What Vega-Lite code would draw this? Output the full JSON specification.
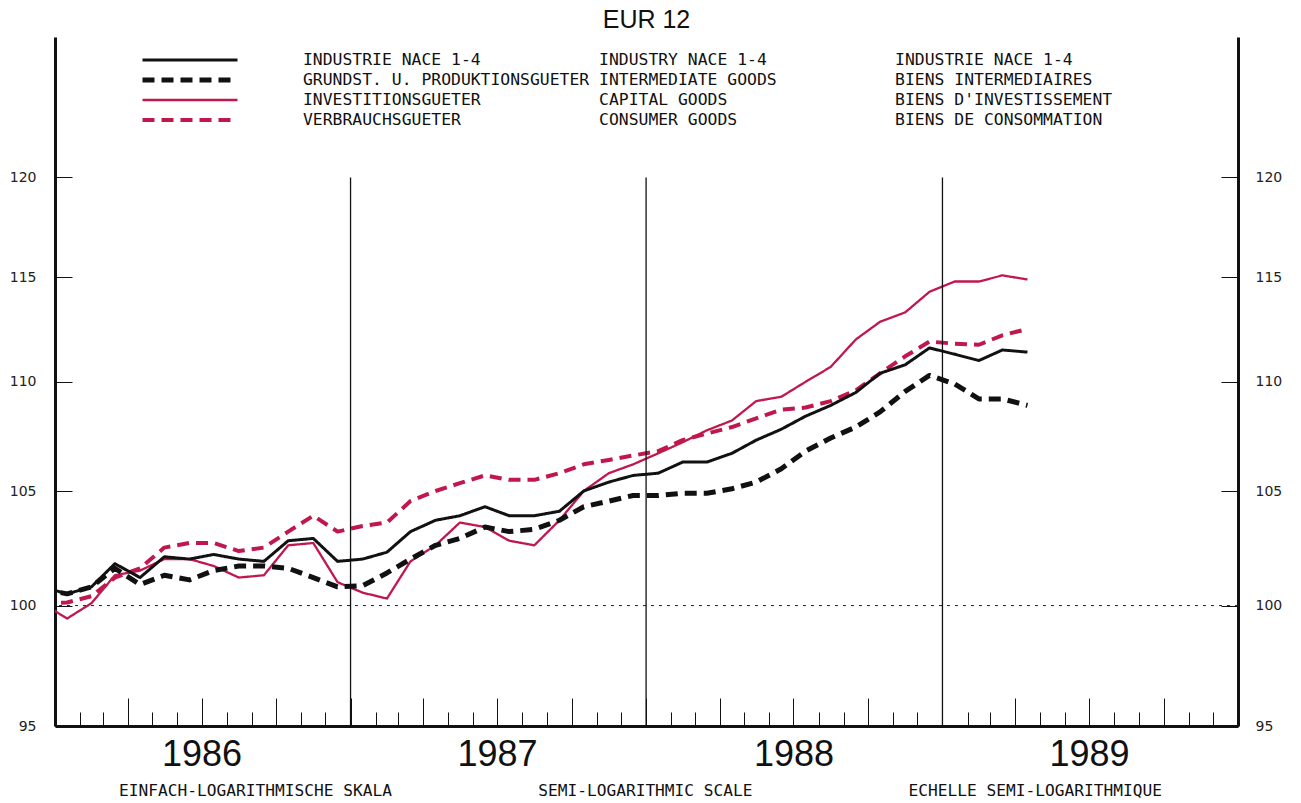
{
  "$schema": "https://vega.github.io/schema/vega-lite/v6.json",
  "width": 1183,
  "height": 689,
  "autosize": {"type": "none"},
  "padding": {"left": 55, "top": 37, "right": 63, "bottom": 77},
  "background": "white",
  "title": {"text": "EUR 12", "font": "Liberation Sans", "fontSize": 25, "fontWeight": "normal", "color": "#111111", "anchor": "middle", "baseline": "alphabetic", "offset": -16},
  "config": {"view": {"stroke": null}, "axis": {"grid": false}},
  "layer": [
    {
      "data": {"values": [
        {"d": "1985-12-16", "industrie": 100.8, "grundstoff": 100.7, "investition": 100.1, "verbrauch": 100.1},
        {"d": "1986-01-16", "industrie": 100.5, "grundstoff": 100.5, "investition": 99.45, "verbrauch": 100.13},
        {"d": "1986-02-15", "industrie": 100.8, "grundstoff": 100.8, "investition": 100.1, "verbrauch": 100.4},
        {"d": "1986-03-16", "industrie": 101.8, "grundstoff": 101.6, "investition": 101.3, "verbrauch": 101.2},
        {"d": "1986-04-16", "industrie": 101.2, "grundstoff": 100.9, "investition": 101.5, "verbrauch": 101.6},
        {"d": "1986-05-16", "industrie": 102.1, "grundstoff": 101.3, "investition": 102.0, "verbrauch": 102.5},
        {"d": "1986-06-16", "industrie": 102.0, "grundstoff": 101.1, "investition": 102.0, "verbrauch": 102.7},
        {"d": "1986-07-16", "industrie": 102.2, "grundstoff": 101.5, "investition": 101.7, "verbrauch": 102.7},
        {"d": "1986-08-16", "industrie": 102.0, "grundstoff": 101.7, "investition": 101.2, "verbrauch": 102.35},
        {"d": "1986-09-16", "industrie": 101.9, "grundstoff": 101.7, "investition": 101.3, "verbrauch": 102.5},
        {"d": "1986-10-16", "industrie": 102.8, "grundstoff": 101.6, "investition": 102.6, "verbrauch": 103.2},
        {"d": "1986-11-16", "industrie": 102.9, "grundstoff": 101.2, "investition": 102.7, "verbrauch": 103.9},
        {"d": "1986-12-16", "industrie": 101.9, "grundstoff": 100.8, "investition": 101.0, "verbrauch": 103.2},
        {"d": "1987-01-16", "industrie": 102.0, "grundstoff": 100.85, "investition": 100.55, "verbrauch": 103.45},
        {"d": "1987-02-15", "industrie": 102.3, "grundstoff": 101.4, "investition": 100.3, "verbrauch": 103.6},
        {"d": "1987-03-16", "industrie": 103.2, "grundstoff": 102.0, "investition": 101.9, "verbrauch": 104.55},
        {"d": "1987-04-16", "industrie": 103.7, "grundstoff": 102.6, "investition": 102.6, "verbrauch": 105.0},
        {"d": "1987-05-16", "industrie": 103.9, "grundstoff": 102.9, "investition": 103.6, "verbrauch": 105.35},
        {"d": "1987-06-16", "industrie": 104.3, "grundstoff": 103.4, "investition": 103.4, "verbrauch": 105.7},
        {"d": "1987-07-16", "industrie": 103.9, "grundstoff": 103.2, "investition": 102.8, "verbrauch": 105.5},
        {"d": "1987-08-16", "industrie": 103.9, "grundstoff": 103.3, "investition": 102.6, "verbrauch": 105.5},
        {"d": "1987-09-16", "industrie": 104.1, "grundstoff": 103.7, "investition": 103.7, "verbrauch": 105.8},
        {"d": "1987-10-16", "industrie": 105.0, "grundstoff": 104.3, "investition": 105.0, "verbrauch": 106.2},
        {"d": "1987-11-16", "industrie": 105.4, "grundstoff": 104.55, "investition": 105.8, "verbrauch": 106.4},
        {"d": "1987-12-16", "industrie": 105.7, "grundstoff": 104.8, "investition": 106.2, "verbrauch": 106.6},
        {"d": "1988-01-16", "industrie": 105.8, "grundstoff": 104.8, "investition": 106.7, "verbrauch": 106.8},
        {"d": "1988-02-15", "industrie": 106.3, "grundstoff": 104.9, "investition": 107.2, "verbrauch": 107.3},
        {"d": "1988-03-16", "industrie": 106.3, "grundstoff": 104.9, "investition": 107.75, "verbrauch": 107.6},
        {"d": "1988-04-16", "industrie": 106.7, "grundstoff": 105.1, "investition": 108.2, "verbrauch": 107.9},
        {"d": "1988-05-16", "industrie": 107.3, "grundstoff": 105.4, "investition": 109.1, "verbrauch": 108.3},
        {"d": "1988-06-16", "industrie": 107.8, "grundstoff": 106.0, "investition": 109.3, "verbrauch": 108.7},
        {"d": "1988-07-16", "industrie": 108.4, "grundstoff": 106.8, "investition": 110.0, "verbrauch": 108.8},
        {"d": "1988-08-16", "industrie": 108.9, "grundstoff": 107.4, "investition": 110.7, "verbrauch": 109.1},
        {"d": "1988-09-16", "industrie": 109.5, "grundstoff": 107.9, "investition": 112.0, "verbrauch": 109.6},
        {"d": "1988-10-16", "industrie": 110.4, "grundstoff": 108.6, "investition": 112.85, "verbrauch": 110.4},
        {"d": "1988-11-16", "industrie": 110.8, "grundstoff": 109.55, "investition": 113.3, "verbrauch": 111.2},
        {"d": "1988-12-16", "industrie": 111.6, "grundstoff": 110.3, "investition": 114.3, "verbrauch": 111.9},
        {"d": "1989-01-16", "industrie": 111.3, "grundstoff": 109.9, "investition": 114.8, "verbrauch": 111.8},
        {"d": "1989-02-15", "industrie": 111.0, "grundstoff": 109.2, "investition": 114.8, "verbrauch": 111.75},
        {"d": "1989-03-16", "industrie": 111.5, "grundstoff": 109.2, "investition": 115.1, "verbrauch": 112.2},
        {"d": "1989-04-16", "industrie": 111.4, "grundstoff": 108.9, "investition": 114.9, "verbrauch": 112.5}
      ]},
      "transform": [{"fold": ["verbrauch", "investition", "grundstoff", "industrie"], "as": ["series", "idx"]}],
      "mark": {"type": "line", "clip": true, "strokeJoin": "round"},
      "encoding": {
        "x": {
          "field": "d", "type": "temporal",
          "scale": {"type": "utc", "nice": false, "domain": [{"year": 1986, "month": 1, "date": 1, "utc": true}, {"year": 1990, "month": 1, "date": 1, "utc": true}]},
          "axis": {
            "tickCount": {"interval": "month", "step": 1},
            "tickSize": {"condition": {"test": "utcmonth(datum.value) % 3 == 0", "value": -28}, "value": -14},
            "tickColor": "#111111", "tickWidth": 1,
            "domainColor": "#111111", "domainWidth": 3,
            "labelExpr": "utcmonth(datum.value) == 6 ? utcFormat(datum.value, '%Y') : ''",
            "labelOverlap": false, "labelFlush": false, "labelBound": false,
            "labelFont": "Liberation Sans", "labelFontSize": 36, "labelColor": "#111111",
            "labelBaseline": "alphabetic", "labelPadding": 67,
            "title": "EINFACH-LOGARITHMISCHE SKALA\u00a0\u00a0\u00a0\u00a0\u00a0\u00a0\u00a0\u00a0\u00a0\u00a0\u00a0\u00a0\u00a0\u00a0\u00a0SEMI-LOGARITHMIC SCALE\u00a0\u00a0\u00a0\u00a0\u00a0\u00a0\u00a0\u00a0\u00a0\u00a0\u00a0\u00a0\u00a0\u00a0\u00a0\u00a0ECHELLE SEMI-LOGARITHMIQUE",
            "titleFont": "DejaVu Sans Mono", "titleFontSize": 16.2, "titleFontWeight": "normal", "titleColor": "#111111",
            "titleX": 585, "titleY": 64, "titleAlign": "center", "titleBaseline": "middle"
          }
        },
        "y": {
          "field": "idx", "type": "quantitative",
          "scale": {"type": "log", "domain": [95, 127.4], "nice": false, "zero": false},
          "axis": {
            "orient": "left", "values": [95, 100, 105, 110, 115, 120], "format": "d",
            "tickSize": -17, "tickColor": "#111111", "tickWidth": 1,
            "domainColor": "#111111", "domainWidth": 3,
            "labelFont": "DejaVu Sans", "labelFontSize": 14, "labelColor": "#222222", "labelPadding": 36,
            "title": null
          }
        },
        "color": {
          "field": "series", "type": "nominal",
          "scale": {"domain": ["industrie", "grundstoff", "investition", "verbrauch"], "range": ["#111111", "#111111", "#c0184d", "#c0184d"]},
          "legend": {
            "orient": "none", "legendX": 85, "legendY": 13, "title": null, "padding": 0,
            "symbolType": "stroke", "symbolSize": 9025, "clipHeight": 20, "rowPadding": 0,
            "labelFont": "DejaVu Sans Mono", "labelFontSize": 16.4, "labelColor": "#111111", "labelLimit": 1000, "labelOffset": 63,
            "labelExpr": "datum.value == 'industrie' ? \"INDUSTRIE NACE 1-4\u00a0\u00a0\u00a0\u00a0\u00a0\u00a0\u00a0\u00a0\u00a0\u00a0\u00a0\u00a0INDUSTRY NACE 1-4\u00a0\u00a0\u00a0\u00a0\u00a0\u00a0\u00a0\u00a0\u00a0\u00a0\u00a0\u00a0\u00a0INDUSTRIE NACE 1-4\" : datum.value == 'grundstoff' ? \"GRUNDST. U. PRODUKTIONSGUETER\u00a0INTERMEDIATE GOODS\u00a0\u00a0\u00a0\u00a0\u00a0\u00a0\u00a0\u00a0\u00a0\u00a0\u00a0\u00a0BIENS INTERMEDIAIRES\" : datum.value == 'investition' ? \"INVESTITIONSGUETER\u00a0\u00a0\u00a0\u00a0\u00a0\u00a0\u00a0\u00a0\u00a0\u00a0\u00a0\u00a0CAPITAL GOODS\u00a0\u00a0\u00a0\u00a0\u00a0\u00a0\u00a0\u00a0\u00a0\u00a0\u00a0\u00a0\u00a0\u00a0\u00a0\u00a0\u00a0BIENS D'INVESTISSEMENT\" : \"VERBRAUCHSGUETER\u00a0\u00a0\u00a0\u00a0\u00a0\u00a0\u00a0\u00a0\u00a0\u00a0\u00a0\u00a0\u00a0\u00a0CONSUMER GOODS\u00a0\u00a0\u00a0\u00a0\u00a0\u00a0\u00a0\u00a0\u00a0\u00a0\u00a0\u00a0\u00a0\u00a0\u00a0\u00a0BIENS DE CONSOMMATION\""
          }
        },
        "strokeDash": {
          "field": "series", "type": "nominal",
          "scale": {"domain": ["industrie", "grundstoff", "investition", "verbrauch"], "range": [[1, 0], [12, 7], [1, 0], [12, 7]]}
        },
        "strokeWidth": {
          "field": "series", "type": "nominal",
          "scale": {"type": "ordinal", "domain": ["industrie", "grundstoff", "investition", "verbrauch"], "range": [3, 5, 2.3, 4]}
        }
      }
    },
    {
      "data": {"values": [{}]},
      "mark": {"type": "rule", "strokeDash": [3, 5], "color": "#222222", "strokeWidth": 1},
      "encoding": {
        "y": {
          "datum": 100, "type": "quantitative",
          "axis": {
            "orient": "right", "values": [95, 100, 105, 110, 115, 120], "format": "d",
            "tickSize": -17, "tickColor": "#111111", "tickWidth": 1,
            "domainColor": "#111111", "domainWidth": 3,
            "labelFont": "DejaVu Sans", "labelFontSize": 14, "labelColor": "#222222", "labelPadding": 34,
            "title": null
          }
        }
      }
    },
    {
      "data": {"values": [{"d": "1987-01-01"}, {"d": "1988-01-01"}, {"d": "1989-01-01"}]},
      "mark": {"type": "rule", "color": "#111111", "strokeWidth": 1.3},
      "encoding": {
        "x": {"field": "d", "type": "temporal"},
        "y": {"datum": 95, "type": "quantitative", "axis": null},
        "y2": {"datum": 120}
      }
    }
  ],
  "resolve": {"axis": {"y": "independent"}}
}
